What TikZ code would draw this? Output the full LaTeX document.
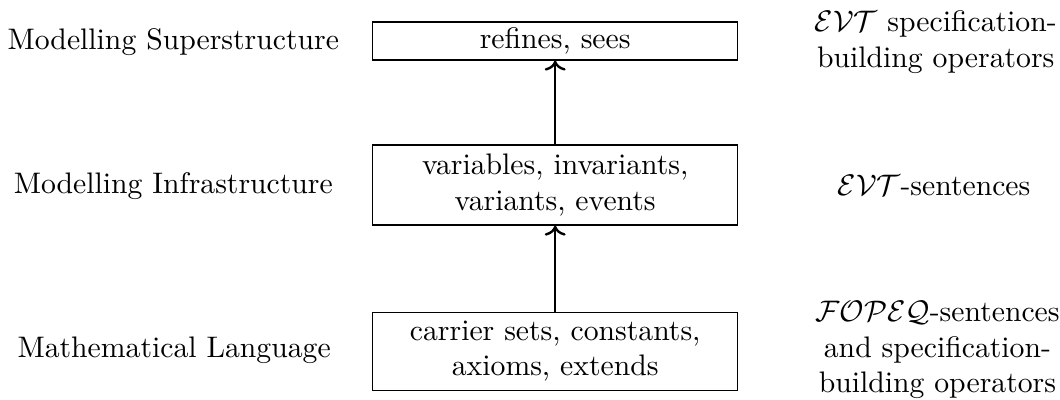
\documentclass[tikz,border=0pt]{standalone}
\usepackage{amsmath}
\usepackage{amssymb}
\usepackage{tikz}
\usetikzlibrary{arrows.meta}

\begin{document}
\begin{tikzpicture}[layer/.style={draw, minimum width=4.32cm, inner ysep=1pt, align=center}]
    \useasboundingbox (0,0) rectangle (12.54,-4.73);

    % the three boxes
    \node[layer, minimum height=0.45cm] at (6.568,-0.485) (sup) {refines, sees};
    \node[layer, minimum height=0.947cm] at (6.568,-2.189) (inf) {variables, invariants,\\ variants, events};
    \node[layer, minimum height=0.923cm] at (6.568,-4.154) (mat) {carrier sets, constants,\\ axioms, extends};

    \draw[->, thick] (inf) -- (sup);
    \draw[->, thick] (mat) -- (inf);

    % left labels
    \node at (2.05,-0.497) (lsup) {Modelling Superstructure};
    \node at (2.05,-2.2) (linf) {Modelling Infrastructure};
    \node at (2.06,-4.14) (lmat) {Mathematical Language};

    % right labels
    \node[align=center] at (11.07,-0.497) (rsup) {$\mathcal{EVT}$ specification-\\ building operators};
    \node at (11.05,-2.2) (rinf) {$\mathcal{EVT}$-sentences};
    \node[align=center] at (11.09,-4.14) (rmat) {$\mathcal{FOPEQ}$-sentences\\ and specification-\\ building operators};
\end{tikzpicture}
\end{document}
